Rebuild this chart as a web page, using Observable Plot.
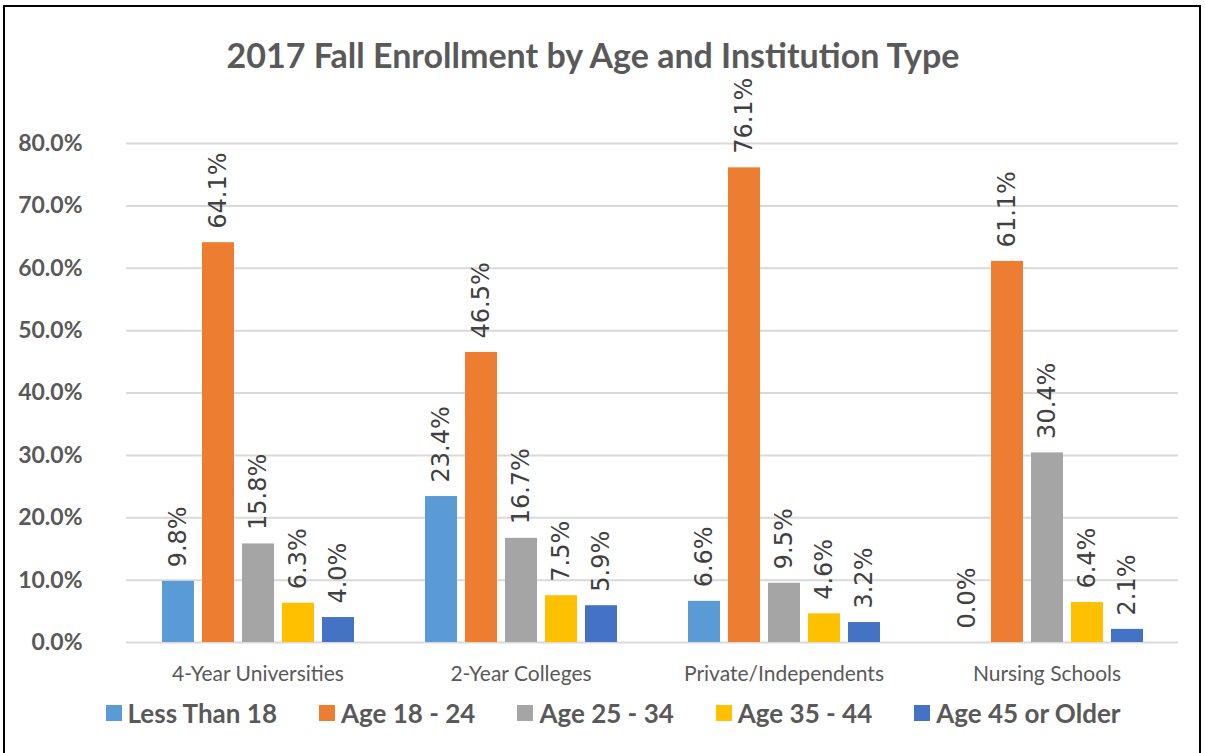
<!DOCTYPE html>
<html>
<head>
<meta charset="utf-8">
<script src="https://cdn.jsdelivr.net/npm/d3@7"></script>
<script src="https://cdn.jsdelivr.net/npm/@observablehq/plot@0.6"></script>
<style>
  html, body { margin: 0; padding: 0; background: #fff; overflow: hidden; }
  #frame { position: absolute; left: 3px; top: 5px; width: 1198px; height: 800px; border: 2px solid #000; box-sizing: border-box; }
  #title { position: absolute; left: 0; top: 34px; width: 1186px; text-align: center; font-family: Lato, sans-serif; font-weight: bold; font-size: 34px; color: #595959; z-index: 2; }
  #chart { position: absolute; left: 0; top: 40px; }
  #legend { position: absolute; left: 0; top: 697px; width: 1226px; display: flex; justify-content: center; font-family: Lato, sans-serif; font-weight: bold; font-size: 26px; color: #595959; }
  .item { display: flex; align-items: center; margin: 0 21px; }
  .sw { width: 16px; height: 16px; margin-right: 6px; }
</style>
</head>
<body>
<div id="frame"></div>
<div id="title">2017 Fall Enrollment by Age and Institution Type</div>
<div id="chart"></div>
<div id="legend"></div>
<script>
const categories = ["4-Year Universities", "2-Year Colleges", "Private/Independents", "Nursing Schools"];
const series = ["Less Than 18", "Age 18 - 24", "Age 25 - 34", "Age 35 - 44", "Age 45 or Older"];
const colors = ["#5B9BD5", "#ED7D31", "#A5A5A5", "#FFC000", "#4472C4"];
const lessThan18 = [9.8, 23.4, 6.6, 0.0];
const age18to24 = [64.1, 46.5, 76.1, 61.1];
const age25to34 = [15.8, 16.7, 9.5, 30.4];
const age35to44 = [6.3, 7.5, 4.6, 6.4];
const age45plus = [4.0, 5.9, 3.2, 2.1];
const yTicks = [0, 10, 20, 30, 40, 50, 60, 70, 80];

const seriesValues = [lessThan18, age18to24, age25to34, age35to44, age45plus];
const data = [];
categories.forEach((c, i) => {
  series.forEach((s, j) => data.push({cat: c, series: s, value: seriesValues[j][i]}));
});

const chart = Plot.plot({
  width: 1205,
  height: 652,
  marginTop: 103,
  marginBottom: 50,
  marginLeft: 126,
  marginRight: 27,
  style: {fontFamily: "Lato, sans-serif", background: "transparent"},
  fx: {domain: categories, padding: 0, label: null},
  x: {domain: series, paddingInner: 0.2, paddingOuter: 0.87, axis: null},
  y: {domain: [0, 80], label: null},
  color: {domain: series, range: colors},
  marks: [
    Plot.gridY(yTicks, {stroke: "#d9d9d9", strokeWidth: 2, strokeOpacity: 1}),
    Plot.barY(data, {fx: "cat", x: "series", y: "value", fill: "series"}),
    Plot.text(data, {fx: "cat", x: "series", y: "value", text: d => d.value.toFixed(1) + "%", rotate: -90, textAnchor: "start", dy: -14, fontSize: 24, fontFamily: "DejaVu Sans", fill: "#404040"}),
    Plot.axisY({ticks: yTicks, tickFormat: d => d.toFixed(1) + "%", tickSize: 0, tickPadding: 44, fontSize: 23, fontWeight: "bold", fill: "#595959", label: null}),
    Plot.axisFx({anchor: "bottom", tickSize: 0, tickPadding: 24, fontSize: 21, fill: "#595959", label: null})
  ]
});
document.getElementById("chart").appendChild(chart);

const legend = document.getElementById("legend");
series.forEach((s, i) => {
  const item = document.createElement("div");
  item.className = "item";
  const sw = document.createElement("div");
  sw.className = "sw";
  sw.style.background = colors[i];
  const t = document.createElement("span");
  t.textContent = s;
  item.appendChild(sw);
  item.appendChild(t);
  legend.appendChild(item);
});
</script>
</body>
</html>
